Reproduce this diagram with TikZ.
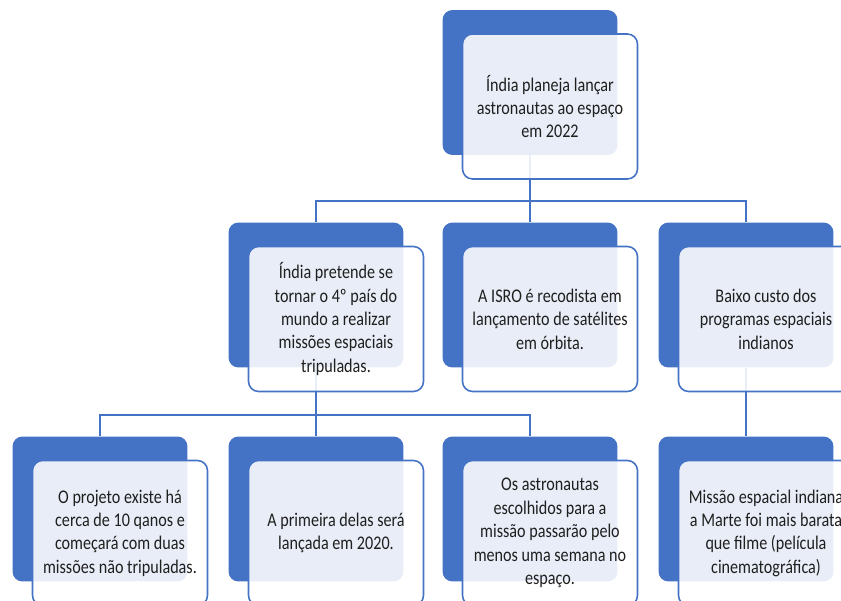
\documentclass[tikz,border=0pt]{standalone}
\usepackage{fontspec}
\setmainfont{Carlito}[FakeStretch=0.835]
\usepackage{xcolor}
\usepackage{tikz}
\usetikzlibrary{calc,positioning}
\definecolor{smartblue}{HTML}{4472C4}

\begin{document}
\begin{tikzpicture}[x=0.02cm,y=-0.02cm,
	backbox/.style={fill=smartblue,rounded corners=0.2cm,minimum width=3.5cm,minimum height=2.9cm,inner sep=0pt},
	frontbox/.style={draw=smartblue,line width=0.9pt,fill=white,fill opacity=0.88,text opacity=1,rounded corners=0.2cm,minimum width=3.5cm,minimum height=2.9cm,inner sep=2pt,align=center,text=black!88,font=\fontsize{11}{13.3}\selectfont},
	conn/.style={draw=smartblue,line width=1.2pt}]
		\clip (0,0) rectangle (841,601);
		% back boxes
		\node[backbox] (b0) at (530,82.5) {};
		\node[backbox] (b1) at (316,295) {};
		\node[backbox] (b2) at (530,295) {};
		\node[backbox] (b3) at (746,295) {};
		\node[backbox] (b4) at (100,509) {};
		\node[backbox] (b5) at (316,509) {};
		\node[backbox] (b6) at (530,509) {};
		\node[backbox] (b7) at (746,509) {};
		% connectors
		\draw[conn] (b0.south) -- ++(0,46) -| (b1.north);
		\draw[conn] (b0.south) -- ++(0,46) -| (b2.north);
		\draw[conn] (b0.south) -- ++(0,46) -| (b3.north);
		\draw[conn] (b1.south) -- ++(0,47) -| (b4.north);
		\draw[conn] (b1.south) -- ++(0,47) -| (b5.north);
		\draw[conn] (b1.south) -- ++(0,47) -| (b6.north);
		\draw[conn] (b3.south) -- (b7.north);
		% front boxes
		\node[frontbox] (f0) at ($(b0)+(20,24)$) {Índia planeja lançar\\astronautas ao espaço\\em 2022};
		\node[frontbox] (f1) at ($(b1)+(20,24)$) {Índia pretende se\\tornar o 4º país do\\mundo a realizar\\missões espaciais\\tripuladas.};
		\node[frontbox] (f2) at ($(b2)+(20,24)$) {A ISRO é recodista em\\lançamento de satélites\\em órbita.};
		\node[frontbox] (f3) at ($(b3)+(20,24)$) {Baixo custo dos\\programas espaciais\\indianos};
		\node[frontbox] (f4) at ($(b4)+(20,24)$) {O projeto existe há\\cerca de 10 qanos e\\começará com duas\\missões não tripuladas.};
		\node[frontbox] (f5) at ($(b5)+(20,24)$) {A primeira delas será\\lançada em 2020.};
		\node[frontbox] (f6) at ($(b6)+(20,24)$) {Os astronautas\\escolhidos para a\\missão passarão pelo\\menos uma semana no\\espaço.};
		\node[frontbox] (f7) at ($(b7)+(20,24)$) {Missão espacial indiana\\a Marte foi mais barata\\que filme (película\\cinematográfica)};
	\end{tikzpicture}
\end{document}
